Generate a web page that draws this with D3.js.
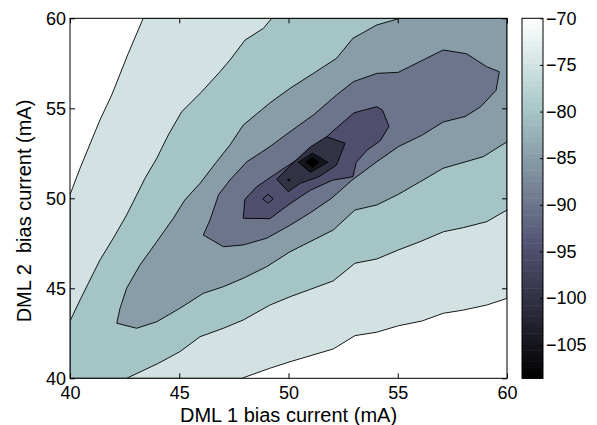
<!DOCTYPE html>
<html>
<head>
<meta charset="utf-8">
<script src="https://cdn.jsdelivr.net/npm/d3@7"></script>
<style>
body { margin: 0; background: #fff; }
text { font-family: "Liberation Sans", Arial, sans-serif; }
</style>
</head>
<body>
<div id="chart"></div>
<script>
// contour levels (dB) and color range of the colorbar
var levels = [-75, -80, -85, -90, -95, -100, -105]
var zMin = -108.6
var zMax = -70
var xTicks = [40, 45, 50, 55, 60]
var yTicks = [40, 45, 50, 55, 60]
var cbTicks = [-70, -75, -80, -85, -90, -95, -100, -105]

// regions below each level, [DML1 mA, DML2 mA]
var region75 = [[40,50.2],[40.46,51.67],[41.37,54.35],[41.91,55.74],[42.67,58.06],[43.35,60],[60,60],[60,44.44],
  [59.07,44.07],[58.0,43.79],[57.08,43.61],[56.1,43.18],[55.03,42.92],[54.04,42.56],[53.04,42.37],[52.05,41.63],
  [50.07,40.92],[49.15,40.56],[47.86,40],[40,40]]
var region80 = [[40,43.18],[40.46,44.35],[40.84,45.28],[41.37,46.57],[41.98,47.78],[42.59,49.07],[43.05,50.18],
  [43.43,51.11],[43.97,52.22],[44.5,53.52],[45.11,54.81],[46.03,55.92],[46.86,57.03],[47.32,57.68],[48.01,58.79],
  [48.85,59.44],[49.23,60],[60,60],[60,49.35],[59.07,48.7],[58.0,48.37],[57.09,48.14],[56.02,47.59],[55.03,47.13],
  [54.04,46.63],[53.04,46.39],[52.05,45.41],[50.07,44.53],[49.15,44.07],[47.93,43.24],[47.02,42.78],[45.95,42.31],
  [45.03,41.48],[44.04,40.83],[42.59,40],[40,40]]
var region85 = [[55.1,60],[54.04,59.63],[52.95,58.89],[52.2,57.78],[51.14,56.94],[50.07,56.11],[49.15,55.3],
  [47.93,54.07],[47.32,52.96],[46.71,52.03],[45.95,50.83],[45.25,49.9],[44.73,48.89],[43.97,47.59],[43.2,46.29],
  [42.59,45.0],[42.29,43.89],[42.14,43.06],[43.05,42.78],[43.97,43.14],[45.03,43.89],[46.1,44.72],[47.02,45.09],
  [47.93,45.56],[49.0,46.2],[50.07,47.03],[52.05,48.24],[53.04,49.35],[54.04,49.63],[55.0,50.2],[56.0,50.9],
  [57.08,51.67],[58.91,52.31],[60,53.14],[60,60]]
var region90 = [[46.1,47.96],[47.02,47.31],[47.93,47.41],[49.0,47.78],[50.07,48.5],[51.0,49.2],[51.97,50.0],
  [52.9,51.0],[54.04,52.03],[55.03,52.87],[56.1,53.5],[57.08,54.24],[58.1,54.55],[58.8,55.09],[59.5,56.0],
  [59.65,57.03],[59.07,57.31],[58.15,58.03],[57.08,58.24],[55.03,57.0],[54.04,56.94],[52.97,56.48],[52.2,55.74],
  [51.14,54.63],[50.07,53.7],[49.15,52.87],[48.09,52.03],[47.32,51.02],[46.8,50.2],[46.41,48.8]]
var region95 = [[47.93,48.89],[48.0,49.94],[48.54,50.64],[49.45,51.39],[50.37,52.13],[51.44,53.06],[52.0,53.7],
  [53.0,54.75],[54.04,55.09],[54.3,54.9],[54.6,54.0],[54.2,53.2],[53.6,52.68],[53.1,52.0],[52.95,51.2],[52.0,51.0],
  [51.0,50.45],[50.07,49.7],[49.15,48.87]]
var island95 = [[48.82,49.97],[49.06,50.22],[49.3,49.97],[49.06,49.72]]
var region100 = [[49.46,51.06],[49.99,51.7],[50.5,52.3],[51.0,52.85],[51.74,53.42],[52.59,53.06],[52.2,51.85],
  [51.4,51.2],[50.53,50.83],[49.99,50.37]]
var region105 = [[50.45,52.0],[51.1,52.5],[51.8,52.0],[51.0,51.45]]
var dot105 = [[49.96,51.02],[50.02,51.07],[50.08,51.02],[50.02,50.97]]
var regionMin = [[50.8,52.0],[51.1,52.28],[51.4,52.0],[51.1,51.72]]

var shapes = [
  { ring: region75, z: -75 },
  { ring: region80, z: -80 },
  { ring: region85, z: -85 },
  { ring: region90, z: -90 },
  { ring: region95, z: -95 },
  { ring: island95, z: -95 },
  { ring: region100, z: -100 },
  { ring: region105, z: -105 },
  { ring: dot105, z: -105 },
  { ring: regionMin, z: zMin }
]

// MATLAB "bone" colormap
function bone(t) {
  t = Math.max(0, Math.min(1, t))
  var hr = Math.min(1, t / 0.375)
  var hg = Math.max(0, Math.min(1, (t - 0.375) / 0.375))
  var hb = Math.max(0, Math.min(1, (t - 0.75) / 0.25))
  return d3.rgb(255 * (7 * t + hb) / 8, 255 * (7 * t + hg) / 8, 255 * (7 * t + hr) / 8)
}
var tScale = d3.scaleLinear().domain([zMin, zMax]).range([0, 1])
var color = function (z) { return bone(tScale(z)) }

var W = 597, H = 425
var pLeft = 70, pRight = 507, pTop = 18.3, pBottom = 378.3

var svg = d3.select("#chart").append("svg")
  .attr("width", W)
  .attr("height", H)

var x = d3.scaleLinear().domain([40, 60]).range([pLeft, pRight])
var y = d3.scaleLinear().domain([40, 60]).range([pBottom, pTop])

svg.append("clipPath").attr("id", "plotclip")
  .append("rect")
  .attr("x", pLeft).attr("y", pTop)
  .attr("width", pRight - pLeft).attr("height", pBottom - pTop)

var plot = svg.append("g").attr("clip-path", "url(#plotclip)")

// values above -75
plot.append("rect")
  .attr("x", pLeft).attr("y", pTop)
  .attr("width", pRight - pLeft).attr("height", pBottom - pTop)
  .attr("fill", color(zMax))

var line = d3.line().x(function (d) { return x(d[0]) }).y(function (d) { return y(d[1]) })

plot.selectAll("path.band")
  .data(shapes)
  .enter().append("path")
  .attr("class", "band")
  .attr("d", function (d) { return line(d.ring) + "Z" })
  .attr("fill", function (d) { return color(d.z) })
  .attr("stroke", "#000")
  .attr("stroke-width", 0.9)
  .attr("stroke-linejoin", "round")

var fontTick = 18
var fontLabel = 20

function styleAxis(g) {
  g.attr("font-size", fontTick)
    .attr("font-family", '"Liberation Sans", Arial, sans-serif')
  g.select(".domain").remove()
  g.selectAll(".tick line").attr("stroke", "#000")
  g.selectAll(".tick text").attr("fill", "#000")
}

svg.append("g")
  .attr("transform", "translate(0," + pBottom + ")")
  .call(d3.axisBottom(x).tickValues(xTicks).tickSizeInner(-5).tickSizeOuter(0).tickPadding(8))
  .call(styleAxis)
svg.append("g")
  .attr("transform", "translate(0," + pTop + ")")
  .call(d3.axisTop(x).tickValues(xTicks).tickSizeInner(-5).tickSizeOuter(0).tickFormat(""))
  .call(styleAxis)
svg.append("g")
  .attr("transform", "translate(" + pLeft + ",0)")
  .call(d3.axisLeft(y).tickValues(yTicks).tickSizeInner(-5).tickSizeOuter(0).tickPadding(4))
  .call(styleAxis)
svg.append("g")
  .attr("transform", "translate(" + pRight + ",0)")
  .call(d3.axisRight(y).tickValues(yTicks).tickSizeInner(-5).tickSizeOuter(0).tickFormat(""))
  .call(styleAxis)

svg.append("rect")
  .attr("x", pLeft).attr("y", pTop)
  .attr("width", pRight - pLeft).attr("height", pBottom - pTop)
  .attr("fill", "none")
  .attr("stroke", "#000")
  .attr("stroke-width", 1)

// axis labels
svg.append("text")
  .attr("x", (pLeft + pRight) / 2)
  .attr("y", 422)
  .attr("text-anchor", "middle")
  .attr("font-size", fontLabel)
  .text("DML 1 bias current (mA)")

svg.append("text")
  .attr("transform", "translate(30.5,211) rotate(-90)")
  .attr("text-anchor", "middle")
  .attr("font-size", fontLabel)
  .style("white-space", "pre")
  .text("DML 2  bias current (mA)")

// colorbar
var cbLeft = 522, cbRight = 543
var cy = d3.scaleLinear().domain([zMin, zMax]).range([pBottom, pTop])
var nColors = 64
var steps = d3.range(nColors)
svg.append("g").selectAll("rect")
  .data(steps)
  .enter().append("rect")
  .attr("x", cbLeft)
  .attr("width", cbRight - cbLeft)
  .attr("y", function (i) { return cy(zMin + (i + 1) * (zMax - zMin) / nColors) })
  .attr("height", function (i) { return cy(zMin) - cy(zMin + (zMax - zMin) / nColors) + 0.5 })
  .attr("fill", function (i) { return bone((i + 0.5) / nColors) })

svg.append("g")
  .attr("transform", "translate(" + cbRight + ",0)")
  .call(d3.axisRight(cy).tickValues(cbTicks).tickSizeInner(-3).tickSizeOuter(0).tickPadding(3)
    .tickFormat(function (d) { return "\u2212" + Math.abs(d) }))
  .call(styleAxis)

svg.append("rect")
  .attr("x", cbLeft).attr("y", pTop)
  .attr("width", cbRight - cbLeft).attr("height", pBottom - pTop)
  .attr("fill", "none")
  .attr("stroke", "#000")
  .attr("stroke-width", 1)
</script>
</body>
</html>
